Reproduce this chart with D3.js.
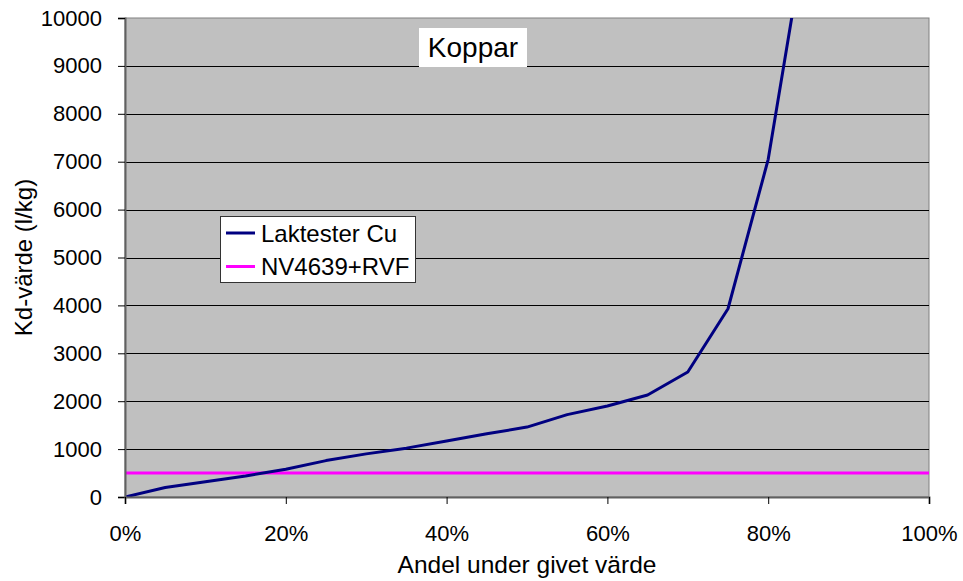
<!DOCTYPE html>
<html><head><meta charset="utf-8">
<script src="https://cdn.jsdelivr.net/npm/d3@7"></script>
<style>body{margin:0;background:#fff}svg{display:block}text{font-family:"Liberation Sans",Arial,sans-serif;fill:#000}</style>
</head><body><svg id="c" width="963" height="581"></svg>
<script>
const shares = [0,0.05,0.10,0.15,0.20,0.25,0.30,0.35,0.40,0.45,0.50,0.55,0.60,0.65,0.70,0.75,0.80,0.85];
const laktesterCu = [0,200,320,440,580,760,900,1020,1170,1320,1460,1720,1900,2130,2610,3930,7050,12100];
const nvValue = 500;
const nvShares = [0,1];
const yTicks = [0,1000,2000,3000,4000,5000,6000,7000,8000,9000,10000];
const xTicks = [0,0.2,0.4,0.6,0.8,1.0];
const seriesNames = ["Laktester Cu","NV4639+RVF"];
const seriesColors = ["#000080","#FF00FF"];

const L=125,R=929,T=18,B=497;
const svg=d3.select("#c");
const x=d3.scaleLinear().domain([0,1]).range([L,R]);
const y=d3.scaleLinear().domain([0,10000]).range([B,T]);

svg.append("rect").attr("x",L).attr("y",T).attr("width",R-L).attr("height",B-T).attr("fill","#C0C0C0").attr("stroke","#808080").attr("stroke-width",1);

// gridlines
svg.append("g").selectAll("line").data(yTicks.slice(1,-1)).join("line")
 .attr("x1",L).attr("x2",R).attr("y1",d=>Math.round(y(d))+0.5).attr("y2",d=>Math.round(y(d))+0.5)
 .attr("stroke","#000").attr("stroke-width",1);

svg.append("defs").append("clipPath").attr("id","clip").append("rect").attr("x",L).attr("y",T).attr("width",R-L).attr("height",B-T);

const gp=svg.append("g").attr("clip-path","url(#clip)");
gp.append("path").datum(nvShares).attr("d",d3.line().x(d=>x(d)).y(()=>y(nvValue)))
 .attr("fill","none").attr("stroke",seriesColors[1]).attr("stroke-width",3);
gp.append("path").datum(shares.map((s,i)=>[s,laktesterCu[i]])).attr("d",d3.line().x(d=>x(d[0])).y(d=>y(d[1])))
 .attr("fill","none").attr("stroke",seriesColors[0]).attr("stroke-width",3).attr("stroke-linejoin","round");

// axes
const ya=svg.append("g").attr("transform",`translate(${L},0)`).call(d3.axisLeft(y).tickValues(yTicks).tickSize(7).tickPadding(16).tickFormat(d3.format("d")));
const xa=svg.append("g").attr("transform",`translate(0,${B})`).call(d3.axisBottom(x).tickValues(xTicks).tickSize(7).tickPadding(21).tickFormat(d3.format(".0%")));
[ya,xa].forEach(a=>{a.select(".domain").attr("stroke","#606060").attr("stroke-width",2);
 a.selectAll(".tick line").attr("stroke","#000");
 a.selectAll("text").attr("font-size",22).attr("font-family","Liberation Sans, Arial, sans-serif").attr("fill","#000");});

svg.append("text").attr("x",(L+R)/2).attr("y",573).attr("text-anchor","middle").attr("font-size",24.5).text("Andel under givet värde");
svg.append("text").attr("transform",`translate(32,${(T+B)/2}) rotate(-90)`).attr("text-anchor","middle").attr("font-size",24).text("Kd-värde (l/kg)");

// title box
svg.append("rect").attr("x",419).attr("y",28).attr("width",108).attr("height",39).attr("fill","#fff");
svg.append("text").attr("x",473).attr("y",57).attr("text-anchor","middle").attr("font-size",28).text("Koppar");

// legend
const lg=svg.append("g");
lg.append("rect").attr("x",220.5).attr("y",216.5).attr("width",195).attr("height",66).attr("fill","#fff").attr("stroke","#333").attr("stroke-width",1);
seriesNames.forEach((n,i)=>{
 const yy=233+i*33.5;
 lg.append("line").attr("x1",226).attr("x2",255).attr("y1",yy).attr("y2",yy).attr("stroke",seriesColors[i]).attr("stroke-width",3);
 lg.append("text").attr("x",261).attr("y",yy+8.5).attr("font-size",24).text(n);
});
</script></body></html>
